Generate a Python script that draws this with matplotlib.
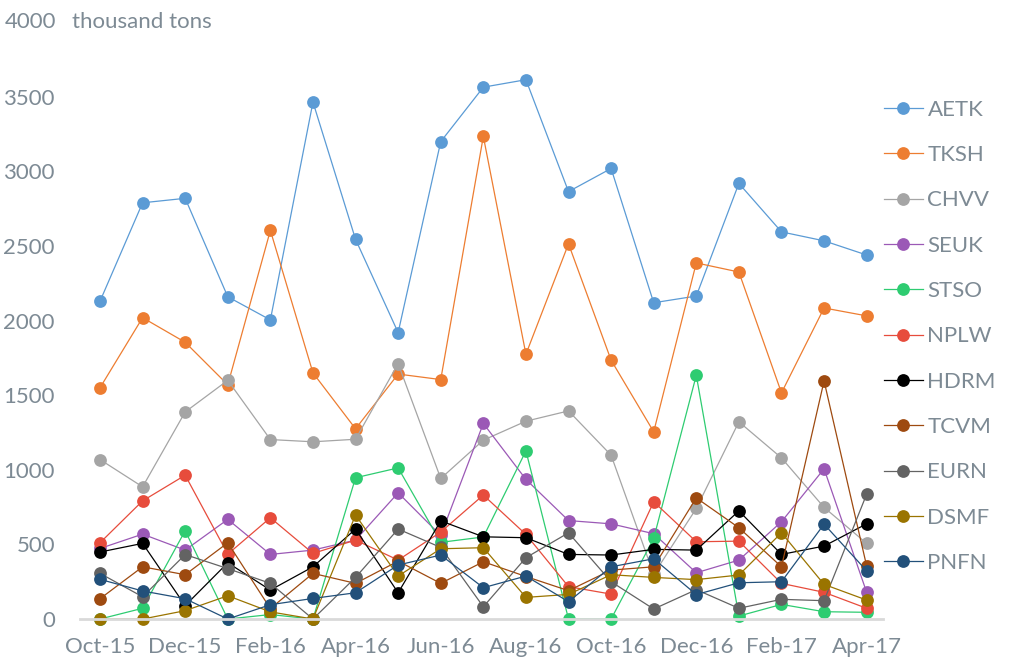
import matplotlib.pyplot as plt

months = ['Oct-15', 'Nov-15', 'Dec-15', 'Jan-16', 'Feb-16', 'Mar-16', 'Apr-16',
          'May-16', 'Jun-16', 'Jul-16', 'Aug-16', 'Sep-16', 'Oct-16', 'Nov-16',
          'Dec-16', 'Jan-17', 'Feb-17', 'Mar-17', 'Apr-17']

names = ['AETK', 'TKSH', 'CHVV', 'SEUK', 'STSO', 'NPLW', 'HDRM', 'TCVM', 'EURN', 'DSMF', 'PNFN']

aetk = [2130, 2790, 2820, 2160, 2005, 3465, 2545, 1920, 3200, 3565, 3615, 2865, 3020, 2120, 2165, 2920, 2595, 2535, 2440]
tksh = [1550, 2020, 1855, 1570, 2605, 1650, 1275, 1642, 1605, 3235, 1775, 2515, 1735, 1255, 2387, 2326, 1516, 2085, 2032]
chvv = [1069, 886, 1388, 1600, 1203, 1188, 1205, 1712, 942, 1199, 1326, 1395, 1098, 300, 741, 1322, 1080, 748, 507]
seuk = [473, 569, 462, 668, 433, 462, 529, 846, 560, 1311, 936, 660, 638, 572, 310, 395, 652, 1007, 179]
stso = [0, 72, 592, 0, 30, 0, 947, 1013, 514, 550, 1127, 0, 0, 540, 1634, 20, 98, 49, 45]
nplw = [511, 792, 964, 435, 679, 440, 529, 395, 583, 831, 567, 217, 167, 786, 518, 522, 239, 179, 72]
hdrm = [449, 507, 90, 377, 194, 350, 603, 176, 658, 551, 545, 433, 429, 467, 462, 725, 433, 489, 638]
tcvm = [136, 350, 297, 511, 70, 306, 239, 388, 239, 384, 285, 190, 328, 350, 812, 612, 350, 1596, 355]
eurn = [306, 149, 432, 338, 239, 0, 279, 603, 480, 82, 411, 578, 250, 67, 197, 72, 132, 123, 837]
dsmf = [0, 0, 56, 156, 48, 0, 697, 288, 471, 478, 145, 165, 297, 279, 264, 295, 578, 232, 127]
pnfn = [266, 188, 136, 0, 96, 138, 176, 362, 429, 210, 288, 116, 350, 404, 164, 243, 250, 636, 323]

colors = ['#5b9bd5', '#ed7d31', '#a5a5a5', '#9b59b6', '#2ecc71', '#e74c3c',
          '#000000', '#9e4a10', '#636363', '#9a7400', '#22507a']

TEXT_COLOR = '#7d8a94'
FONT_SIZE = 16


def main():
    plt.rcParams['font.family'] = ['Lato', 'DejaVu Sans']

    fig = plt.figure(figsize=(10.15, 6.69), dpi=100)
    ax = fig.add_axes([0.0788, 0.0747, 0.791, 0.892])

    series = [aetk, tksh, chvv, seuk, stso, nplw, hdrm, tcvm, eurn, dsmf, pnfn]
    x = list(range(len(months)))
    for name, values, color in zip(names, series, colors):
        ax.plot(x, values, color=color, linewidth=0.9, marker='o', markersize=9.2,
                markeredgewidth=0, label=name, clip_on=False)

    ax.set_xlim(-0.47, 18.38)
    ax.set_ylim(0, 4000)
    ax.set_yticks(range(0, 4001, 500))
    ax.set_yticklabels([str(v) if v < 4000 else '' for v in range(0, 4001, 500)])
    ax.set_xticks(x[::2])
    ax.set_xticklabels(months[::2])

    for side in ['top', 'right', 'left']:
        ax.spines[side].set_visible(False)
    ax.spines['bottom'].set_color('#d9d9d9')
    ax.spines['bottom'].set_linewidth(2)
    ax.tick_params(axis='both', length=0, labelsize=FONT_SIZE, labelcolor=TEXT_COLOR)
    ax.tick_params(axis='y', pad=18)
    ax.tick_params(axis='x', pad=13)

    fig.text(0.0552, 0.967, '4000', ha='right', va='center', fontsize=FONT_SIZE, color=TEXT_COLOR)
    fig.text(0.071, 0.967, 'thousand tons', ha='left', va='center', fontsize=FONT_SIZE, color=TEXT_COLOR)

    ax.legend(loc='upper left', bbox_to_anchor=(0.99, 0.885), frameon=False, fontsize=FONT_SIZE,
              labelcolor=TEXT_COLOR, handlelength=1.75, handletextpad=0.22,
              labelspacing=1.14, borderaxespad=0)

    fig.savefig('out.png', dpi=100)


if __name__ == '__main__':
    main()
